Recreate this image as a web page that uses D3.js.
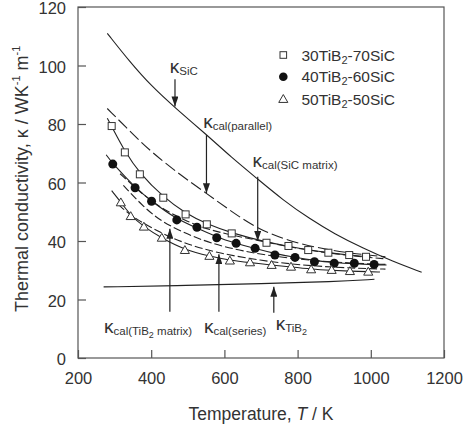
<!DOCTYPE html>
<html>
<head>
<meta charset="utf-8">
<script src="https://cdn.jsdelivr.net/npm/d3@7"></script>
<style>
  body { margin: 0; background: #fff; }
  text { font-family: "Liberation Sans", Arial, sans-serif; fill: #333; }
</style>
</head>
<body>
<script>
// measured points, [T (K), kappa (W/K m)]
const sq30 = [[292,79.3],[328,70.3],[369,62.8],[433,54.8],[494,49.1],[552,45.7],[620,42.6],[715,39.4],[775,38.3],[829,36.9],[884,36.0],[941,35.2],[987,34.6]];
const dot40 = [[295,66.3],[356,58.2],[401,53.6],[470,47.2],[525,44.7],[579,41.1],[632,39.2],[684,37.5],[738,35.2],[793,34.4],[846,32.9],[900,32.4],[955,32.4],[1009,32.0]];
const tri50 = [[317,53.2],[344,48.5],[380,44.9],[429,41.1],[492,36.9],[559,34.9],[615,33.3],[670,32.7],[729,31.8],[782,31.2],[837,30.3],[893,30.1],[943,29.7],[993,29.5]];

// curves
const kSiC = [[280,111],[340,101.5],[400,93],[470,85],[550,76.5],[620,68.5],[688,61.5],[760,54],[834,47.5],[900,42.5],[979,37.5],[1060,33],[1139,29.3]];
const kPar = [[280,85.3],[350,76.5],[400,70.5],[480,62.5],[551,56.3],[620,50],[693,44],[780,39.8],[880,37],[960,35.6],[1040,34.6]];
const fit30 = [[280,82],[292,79.2],[328,70.6],[369,63],[433,55],[494,49.4],[552,45.8],[620,42.7],[715,39.6],[775,38.2],[829,37],[884,36],[941,35.2],[1000,34.5]];
const fit40 = [[277,69.5],[295,66.4],[356,58.3],[401,53.6],[470,47.4],[525,44.5],[579,41.3],[632,39.2],[684,37.4],[738,35.7],[793,34.4],[846,33.3],[900,32.6],[955,32.2],[1009,31.9],[1043,31.8]];
const fit50 = [[292,57.2],[317,53.3],[344,48.7],[380,44.8],[429,41],[492,37],[559,34.8],[615,33.4],[670,32.6],[729,31.8],[782,31.1],[837,30.4],[893,30],[943,29.7],[993,29.5],[1025,29.4]];
const kSiCm = [[315,63],[380,55.5],[433,50.8],[500,46.5],[560,43.8],[620,42],[692,40.2],[800,37.4],[900,35.6],[1000,34.3],[1040,33.9]];
const kTiBm = [[324,59],[380,51.5],[433,46.2],[500,42.3],[560,39.3],[650,36.5],[750,34.5],[850,33.2],[950,32.4],[1040,32]];
const kSer = [[310,52.5],[350,48],[430,42.5],[500,38.8],[585,35.8],[700,33.3],[800,31.9],[900,31],[1000,30.5],[1040,30.4]];
const kTiB2 = [[270,24.3],[500,24.8],[700,25.4],[900,26.1],[1010,26.9]];

const xTicks = [200,400,600,800,1000,1200];
const yTicks = [0,20,40,60,80,100,120];

// annotation arrows: T, start kappa, tip kappa
const arrows = [[465,95.3,86],[551,76.2,56.3],[691,62,40],[451,15.8,44.2],[585,15.8,35.5],[735,15.5,24.4]];
const labels = [
  {T:451, k:97.3, sub:[["SiC"]]},
  {T:542, k:78.5, sub:[["cal(parallel)"]]},
  {T:677, k:65.4, sub:[["cal(SiC matrix)"]]},
  {T:271, k:8.6, sub:[["cal(TiB"],["2",1],[" matrix)"]]},
  {T:544, k:8.6, sub:[["cal(series)"]]},
  {T:740, k:9.6, sub:[["TiB"],["2",1]]}
];
const series = ["30TiB2-70SiC","40TiB2-60SiC","50TiB2-50SiC"];

const W = 464, H = 426;
const svg = d3.select("body").append("svg").attr("width", W).attr("height", H);

const x = d3.scaleLinear().domain([200,1200]).range([78,444]);
const y = d3.scaleLinear().domain([0,120]).range([358,7]);

svg.append("defs").append("marker")
  .attr("id","ah").attr("viewBox","0 -3.5 10 7")
  .attr("refX",10).attr("refY",0)
  .attr("markerWidth",10).attr("markerHeight",7)
  .attr("markerUnits","userSpaceOnUse").attr("orient","auto")
  .append("path").attr("d","M0,-3.5L10,0L0,3.5Z").attr("fill","#222");

// frame
svg.append("rect")
  .attr("x", x(200)).attr("y", y(120))
  .attr("width", x(1200)-x(200)).attr("height", y(0)-y(120))
  .attr("fill","none").attr("stroke","#555").attr("stroke-width",1.2);

// axes
const xa = svg.append("g").attr("transform",`translate(0,${y(0)})`)
  .call(d3.axisBottom(x).tickValues(xTicks).tickFormat(d3.format("d")).tickSize(-8).tickPadding(14));
const ya = svg.append("g").attr("transform",`translate(${x(200)},0)`)
  .call(d3.axisLeft(y).tickValues(yTicks).tickFormat(d3.format("d")).tickSize(-8).tickPadding(12));
[xa, ya].forEach(a => {
  a.select(".domain").remove();
  a.selectAll("line").attr("stroke","#555").attr("stroke-width",1.2);
  a.selectAll("text").style("font-size","16.5px").attr("fill","#333")
    .style("font-family","'Liberation Sans', Arial, sans-serif");
});
ya.selectAll("text").attr("dy","0.4em");

svg.append("text").attr("x", 261).attr("y", 420)
  .style("text-anchor","middle").style("font-size","17.5px")
  .html('Temperature, <tspan font-style="italic">T</tspan> / K');

const yl = svg.append("text").attr("transform","translate(28,312) rotate(-90)")
  .style("font-size","18px");
yl.append("tspan").text("Thermal conductivity, κ / WK");
yl.append("tspan").attr("dy",-8).style("font-size","11px").text("-1");
yl.append("tspan").attr("dy",8).text(" m");
yl.append("tspan").attr("dy",-8).style("font-size","11px").text("-1");

// curves
const line = d3.line().x(d => x(d[0])).y(d => y(d[1])).curve(d3.curveBasis);
const curves = [
  [kSiC, null], [kPar, "12,4"], [fit30, null], [fit40, null], [fit50, null],
  [kSiCm, "8,3"], [kTiBm, "8,3"], [kSer, "8,3"], [kTiB2, null]
];
svg.append("g").selectAll("path").data(curves).enter().append("path")
  .attr("d", d => line(d[0]))
  .attr("fill","none").attr("stroke","#222").attr("stroke-width",1.1)
  .attr("stroke-dasharray", d => d[1]);

// data markers
const tri = d3.symbol().type(d3.symbolTriangle).size(36);
svg.append("g").selectAll("rect").data(sq30).enter().append("rect")
  .attr("x", d => x(d[0]) - 3.5).attr("y", d => y(d[1]) - 3.5)
  .attr("width",7).attr("height",7)
  .attr("fill","#fff").attr("stroke","#333").attr("stroke-width",1);
svg.append("g").selectAll("circle").data(dot40).enter().append("circle")
  .attr("cx", d => x(d[0])).attr("cy", d => y(d[1])).attr("r",4.5)
  .attr("fill","#111");
svg.append("g").selectAll("path").data(tri50).enter().append("path")
  .attr("transform", d => `translate(${x(d[0])},${y(d[1])+0.8})`)
  .attr("d", tri).attr("fill","#fff").attr("stroke","#333").attr("stroke-width",1);

// arrows
svg.append("g").selectAll("line").data(arrows).enter().append("line")
  .attr("x1", d => x(d[0])).attr("x2", d => x(d[0]))
  .attr("y1", d => y(d[1])).attr("y2", d => y(d[2]))
  .attr("stroke","#222").attr("stroke-width",1.2)
  .attr("marker-end","url(#ah)");

// labels
labels.forEach(l => {
  const t = svg.append("text").attr("x", x(l.T)).attr("y", y(l.k));
  t.append("tspan").style("font-size","19px").text("κ");
  let off = 0;
  l.sub.forEach((s, i) => {
    const want = s[1] ? 5 : 2;
    t.append("tspan").style("font-size", s[1] ? "9px" : "11.5px")
      .attr("dy", want - off).text(s[0]);
    off = want;
  });
});

// legend
const lg = svg.append("g");
const ly = [55, 76.7, 99];
lg.append("rect").attr("x",280).attr("y",ly[0]-3.3).attr("width",6.6).attr("height",6.6)
  .attr("fill","#fff").attr("stroke","#333");
lg.append("circle").attr("cx",283.3).attr("cy",ly[1]).attr("r",4.3).attr("fill","#111");
lg.append("path").attr("transform",`translate(283.3,${ly[2]+0.8})`).attr("d",tri)
  .attr("fill","#fff").attr("stroke","#333");
series.forEach((s, i) => {
  const t = lg.append("text").attr("x",301.5).attr("y",ly[i]+5.7).style("font-size","15.5px");
  const p = s.split("2");
  t.append("tspan").text(p[0]);
  t.append("tspan").attr("dy",3).style("font-size","11px").text("2");
  t.append("tspan").attr("dy",-3).text(p.slice(1).join("2"));
});
</script>
</body>
</html>
